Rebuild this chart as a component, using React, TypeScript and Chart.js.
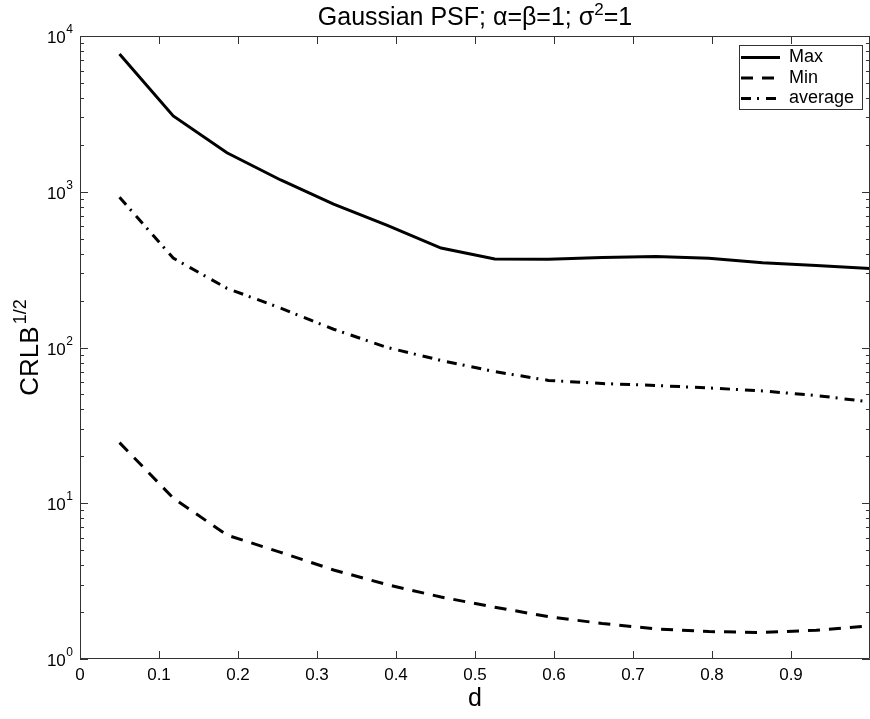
import React, { useEffect, useRef } from "react";
import { Chart, registerables } from "chart.js";

Chart.register(...registerables);

const dValues = [0.05, 0.118, 0.186, 0.254, 0.321, 0.389, 0.457, 0.525, 0.593, 0.661, 0.729, 0.796, 0.864, 0.932, 1.0];
const maxValues = [7660, 3065, 1780, 1190, 834, 609, 435, 370, 368, 379, 384, 374, 350, 336, 322];
const minValues = [24.5, 10.8, 6.25, 4.84, 3.73, 3.0, 2.5, 2.15, 1.87, 1.69, 1.56, 1.5, 1.48, 1.53, 1.63];
const avgValues = [921, 375, 240, 179, 131, 100, 82.6, 70, 61.5, 58.7, 57, 55, 52.6, 49.2, 44.7];

const seriesNames = ["Max", "Min", "average"];
const xTickValues = [0, 0.1, 0.2, 0.3, 0.4, 0.5, 0.6, 0.7, 0.8, 0.9, 1.0];
const xTickLabels = ["0", "0.1", "0.2", "0.3", "0.4", "0.5", "0.6", "0.7", "0.8", "0.9", ""];
const yTickExponents = [0, 1, 2, 3, 4];

const FONT = "'Liberation Sans', Arial, sans-serif";

const toPoints = (ys: number[]) => ys.map((y, i) => ({ x: dValues[i], y }));

const matlabPlugin = {
  id: "matlabAxes",
  afterDatasetsDraw(chart: any) {
    const { ctx, chartArea, scales } = chart;
    const xs = scales.x;
    const ys = scales.y;
    const { left, right, top, bottom } = chartArea;
    ctx.save();
    ctx.strokeStyle = "#333";
    ctx.lineWidth = 1;
    ctx.fillStyle = "#000";

    // box
    ctx.beginPath();
    ctx.rect(left + 0.5, top + 0.5, right - left - 1, bottom - top - 1);
    ctx.stroke();

    // x ticks
    ctx.font = `17px ${FONT}`;
    ctx.textAlign = "center";
    ctx.textBaseline = "middle";
    xTickValues.forEach((v, i) => {
      const px = Math.round(xs.getPixelForValue(v)) + 0.5;
      ctx.beginPath();
      ctx.moveTo(px, bottom);
      ctx.lineTo(px, bottom - 8);
      ctx.moveTo(px, top);
      ctx.lineTo(px, top + 8);
      ctx.stroke();
      if (xTickLabels[i]) ctx.fillText(xTickLabels[i], xs.getPixelForValue(v), bottom + 16);
    });

    // y ticks
    yTickExponents.forEach((e) => {
      const py = Math.round(ys.getPixelForValue(Math.pow(10, e))) + 0.5;
      ctx.beginPath();
      ctx.moveTo(left, py);
      ctx.lineTo(left + 8, py);
      ctx.moveTo(right, py);
      ctx.lineTo(right - 8, py);
      ctx.stroke();
      if (e < 4) {
        for (let m = 2; m <= 9; m++) {
          const pm = Math.round(ys.getPixelForValue(m * Math.pow(10, e))) + 0.5;
          ctx.beginPath();
          ctx.moveTo(left, pm);
          ctx.lineTo(left + 4, pm);
          ctx.moveTo(right, pm);
          ctx.lineTo(right - 4, pm);
          ctx.stroke();
        }
      }
      ctx.textBaseline = "alphabetic";
      ctx.textAlign = "right";
      ctx.font = `12px ${FONT}`;
      const sup = String(e);
      const supW = ctx.measureText(sup).width;
      const supX = left - 7;
      ctx.fillText(sup, supX, py - 4);
      ctx.font = `17px ${FONT}`;
      ctx.fillText("10", supX - supW - 0.5, py + 6);
    });

    // legend
    const lx = 739.5, ly = 45.5, lw = 123, lh = 64;
    ctx.fillStyle = "#fff";
    ctx.fillRect(lx, ly, lw, lh);
    ctx.strokeStyle = "#333";
    ctx.lineWidth = 1;
    ctx.strokeRect(lx, ly, lw, lh);
    const rowY = [57.5, 78, 98.5];
    chart.data.datasets.forEach((ds: any, i: number) => {
      ctx.save();
      ctx.strokeStyle = "#000";
      ctx.lineWidth = ds.borderWidth;
      ctx.setLineDash(ds.borderDash || []);
      ctx.beginPath();
      ctx.moveTo(741, rowY[i]);
      ctx.lineTo(780, rowY[i]);
      ctx.stroke();
      ctx.restore();
      ctx.fillStyle = "#000";
      ctx.font = `18px ${FONT}`;
      ctx.textAlign = "left";
      ctx.textBaseline = "middle";
      ctx.fillText(ds.label, 789, rowY[i]);
    });

    // title
    ctx.fillStyle = "#000";
    ctx.textBaseline = "alphabetic";
    ctx.textAlign = "left";
    const t1 = "Gaussian PSF; \u03b1=\u03b2=1; \u03c3";
    const t2 = "2";
    const t3 = "=1";
    const big = 25;
    const small = 17;
    ctx.font = `${big}px ${FONT}`;
    const w1 = ctx.measureText(t1).width;
    const w3 = ctx.measureText(t3).width;
    ctx.font = `${small}px ${FONT}`;
    const w2 = ctx.measureText(t2).width;
    const tw = w1 + w2 + w3;
    const cx = (left + right) / 2;
    const tx = cx - tw / 2;
    const tb = 25;
    ctx.font = `${big}px ${FONT}`;
    ctx.fillText(t1, tx, tb);
    ctx.font = `${small}px ${FONT}`;
    ctx.fillText(t2, tx + w1, tb - 10);
    ctx.font = `${big}px ${FONT}`;
    ctx.fillText(t3, tx + w1 + w2, tb);

    // x label
    ctx.font = `25px ${FONT}`;
    ctx.textAlign = "center";
    ctx.fillText("d", cx, 706);

    // y label
    ctx.save();
    const cy = (top + bottom) / 2;
    ctx.translate(38, cy);
    ctx.rotate(-Math.PI / 2);
    ctx.font = `26px ${FONT}`;
    const wl = ctx.measureText("CRLB").width;
    ctx.font = `18px ${FONT}`;
    const ws = ctx.measureText("1/2").width;
    const total = wl + ws + 2;
    ctx.textAlign = "left";
    ctx.font = `26px ${FONT}`;
    ctx.fillText("CRLB", -total / 2, 0);
    ctx.font = `18px ${FONT}`;
    ctx.fillText("1/2", -total / 2 + wl + 2, -12);
    ctx.restore();

    ctx.restore();
  },
};

export default function App() {
  const canvasRef = useRef<HTMLCanvasElement | null>(null);

  useEffect(() => {
    document.body.style.margin = "0";
    const canvas = canvasRef.current;
    if (!canvas) return;
    const chart = new Chart(canvas, {
      type: "line",
      data: {
        datasets: [
          {
            label: seriesNames[0],
            data: toPoints(maxValues),
            borderColor: "#000",
            borderWidth: 3,
            pointRadius: 0,
            fill: false,
            tension: 0,
          },
          {
            label: seriesNames[1],
            data: toPoints(minValues),
            borderColor: "#000",
            borderWidth: 3,
            borderDash: [12, 9],
            pointRadius: 0,
            fill: false,
            tension: 0,
          },
          {
            label: seriesNames[2],
            data: toPoints(avgValues),
            borderColor: "#000",
            borderWidth: 3,
            borderDash: [10, 6, 2, 7],
            pointRadius: 0,
            fill: false,
            tension: 0,
          },
        ],
      },
      options: {
        animation: false,
        responsive: false,
        devicePixelRatio: 1,
        layout: { padding: { left: 80, top: 36, right: 0, bottom: 60 } },
        plugins: {
          legend: { display: false },
          title: { display: false },
          tooltip: { enabled: false },
        },
        scales: {
          x: { type: "linear", min: 0, max: 1, display: false },
          y: { type: "logarithmic", min: 1, max: 10000, display: false },
        },
      },
      plugins: [matlabPlugin],
    } as any);
    return () => chart.destroy();
  }, []);

  return (
    <div style={{ width: 870, height: 719, background: "#fff" }}>
      <canvas ref={canvasRef} width={870} height={719} />
    </div>
  );
}
